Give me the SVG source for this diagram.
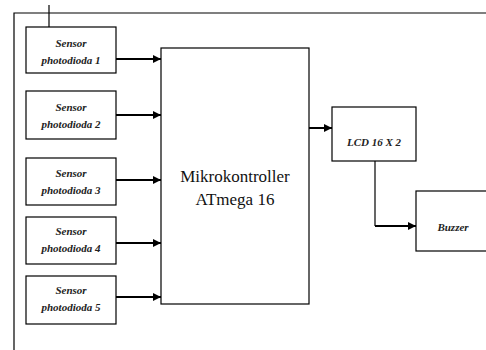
<svg xmlns="http://www.w3.org/2000/svg" width="486" height="350" viewBox="0 0 486 350">
<style>
.box{fill:#fff;stroke:#000;stroke-width:1.2}
.lbl{font-style:italic;font-weight:bold;font-size:11px;fill:#222;text-anchor:middle}
.big{font-size:17px;fill:#111;text-anchor:middle}
.c{stroke:#000;stroke-width:2;fill:none}
.t{stroke:#000;stroke-width:1.2;fill:none}
</style>
<defs>
<marker id="ah" viewBox="0 0 10 10" refX="10" refY="5" markerWidth="4" markerHeight="4" orient="auto" markerUnits="strokeWidth">
<path d="M0,0L10,5L0,10z" fill="#000"/>
</marker>
</defs>
<rect width="486" height="350" fill="#fff"/>
<g id="frame">
<path class="t" d="M14,350V13H486"/>
<path class="t" d="M49,5V27"/>
</g>
<g font-family="Liberation Serif, Times New Roman, serif">
<g id="s1"><rect class="box" x="26" y="27" width="90" height="46"/><text class="lbl" x="71" y="47">Sensor</text><text class="lbl" x="71" y="64">photodioda 1</text></g>
<g id="s2"><rect class="box" x="26" y="91" width="90" height="48"/><text class="lbl" x="71" y="111">Sensor</text><text class="lbl" x="71" y="128">photodioda 2</text></g>
<g id="s3"><rect class="box" x="26" y="158" width="90" height="47"/><text class="lbl" x="71" y="177">Sensor</text><text class="lbl" x="71" y="194">photodioda 3</text></g>
<g id="s4"><rect class="box" x="26" y="217" width="90" height="47"/><text class="lbl" x="71" y="235">Sensor</text><text class="lbl" x="71" y="252">photodioda 4</text></g>
<g id="s5"><rect class="box" x="26" y="276" width="90" height="48"/><text class="lbl" x="71" y="294">Sensor</text><text class="lbl" x="71" y="311">photodioda 5</text></g>
<g id="mcu"><rect class="box" x="161" y="48" width="148" height="256"/><text class="big" x="235" y="182">Mikrokontroller</text><text class="big" x="235" y="205">ATmega 16</text></g>
<g id="lcd"><rect class="box" x="332" y="107" width="84" height="54"/><text class="lbl" x="374" y="146">LCD 16 X 2</text></g>
<g id="buzzer"><rect class="box" x="416" y="191" width="76" height="60"/><text class="lbl" x="453" y="231">Buzzer</text></g>
</g>
<g id="connectors">
<path class="c" d="M116,59H161" marker-end="url(#ah)"/>
<path class="c" d="M116,115H161" marker-end="url(#ah)"/>
<path class="c" d="M116,180H161" marker-end="url(#ah)"/>
<path class="c" d="M116,243H161" marker-end="url(#ah)"/>
<path class="c" d="M116,297H161" marker-end="url(#ah)"/>
<path class="c" d="M309,128H332" marker-end="url(#ah)"/>
<path class="t" d="M375,161V226"/>
<path class="c" d="M375,226H416" marker-end="url(#ah)"/>
</g>
</svg>
